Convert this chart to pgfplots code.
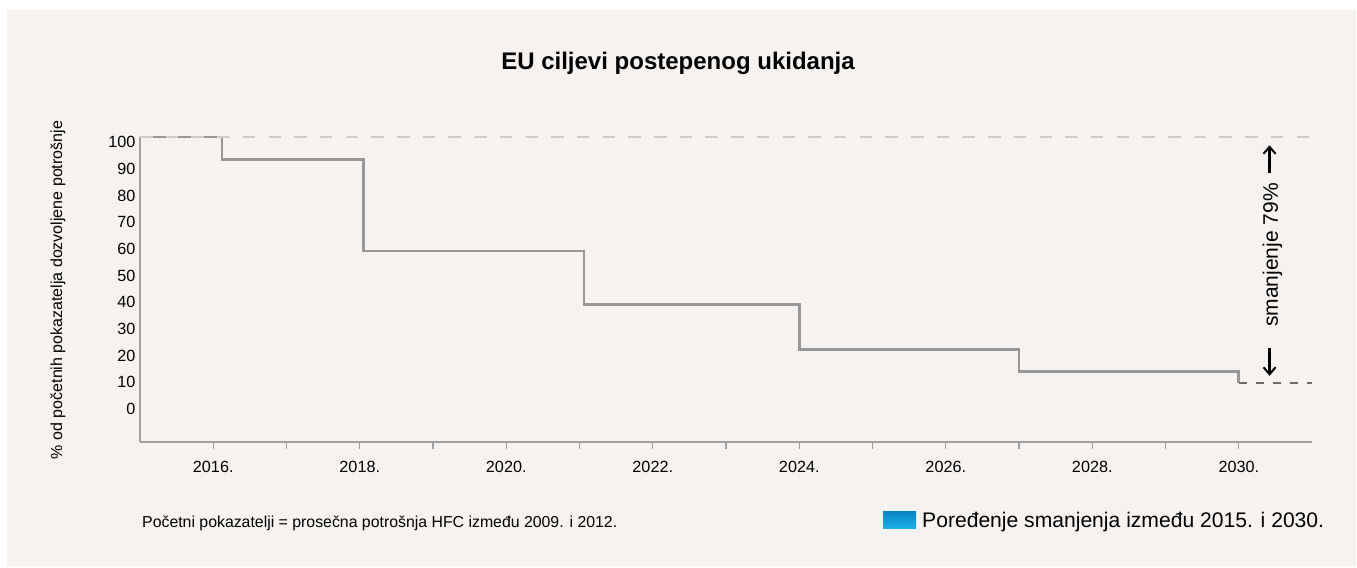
\documentclass[border=0pt]{standalone}
\usepackage{fontspec}
\setmainfont{Liberation Sans}
\usepackage{pgfplots}
\pgfplotsset{compat=1.18}
\usetikzlibrary{arrows.meta}
\definecolor{bgc}{HTML}{F5F2EF}
\definecolor{stepc}{HTML}{979797}
\definecolor{refc}{HTML}{CFCCC8}
\definecolor{axc}{HTML}{A0A0A0}
\definecolor{endc}{HTML}{6A6A6A}
\definecolor{blueA}{HTML}{0A85C6}
\definecolor{blueB}{HTML}{1DB3E8}
\begin{document}
\begin{tikzpicture}[x=1bp,y=1bp]
\useasboundingbox (0,0) rectangle (1357,568);
\fill[white] (0,0) rectangle (1357,568);
\fill[bgc] (7,2) rectangle (1356,558);
\begin{axis}[
  at={(140bp,126bp)}, anchor=south west,
  scale only axis, width=1172bp, height=305bp,
  xmin=2015, xmax=2031, ymin=-12.4, ymax=101.9,
  axis x line*=bottom, axis y line*=left,
  axis line style={axc, line width=1.8bp, -},
  clip=false,
  xtick={2016,2018,...,2030},
  xticklabels={2016.,2018.,2020.,2022.,2024.,2026.,2028.,2030.},
  minor xtick={2017,2019,...,2029},
  ytick={0,10,...,100},
  tick align=outside,
  major tick length=7bp, minor tick length=7bp,
  xtick style={axc, line width=1.3bp},
  ytick style={draw=none},
  tick label style={font=\fontsize{16.2bp}{19bp}\selectfont, text=black},
  /pgf/number format/assume math mode=true,
  xticklabel style={yshift=-9bp},
  yticklabel style={xshift=6bp},
]
\addplot[stepc, line width=2.6bp] coordinates {
  (2015,101.9) (2016.12,101.9) (2016.12,93.5) (2018.05,93.5) (2018.05,59.2)
  (2021.06,59.2) (2021.06,39.2) (2024,39.2) (2024,22.2) (2027,22.2)
  (2027,14.0) (2030,14.0) (2030,9.7)};
\addplot[refc, line width=2.6bp, dash pattern=on 12.5bp off 13.2bp] coordinates {(2015,101.9) (2031,101.9)};
\addplot[endc, line width=2.4bp, dash pattern=on 8bp off 9bp] coordinates {(2030,9.7) (2031,9.7)};
\draw[black, line width=2.2bp, -{Straight Barb[length=7bp,width=12bp,line width=2bp]}] (axis cs:2030.42,88.4) -- (axis cs:2030.42,98.8);
\draw[black, line width=2.2bp, -{Straight Barb[length=7bp,width=12bp,line width=2bp]}] (axis cs:2030.42,22.8) -- (axis cs:2030.42,12.4);
\node[rotate=90, font=\fontsize{21bp}{25bp}\selectfont] at (axis cs:2030.46,57.7) {smanjenje 79\%};
\end{axis}
\node[rotate=90, font=\fontsize{16bp}{19bp}\selectfont] at (58,278) {\% od početnih pokazatelja dozvoljene potrošnje};
\node[anchor=base, font=\bfseries\fontsize{24bp}{28bp}\selectfont] at (678,498) {EU ciljevi postepenog ukidanja};
\node[anchor=base west, inner sep=0, font=\fontsize{15.85bp}{19bp}\selectfont] at (142,40) {Početni pokazatelji = prosečna potrošnja HFC između 2009. i 2012.};
\shade[top color=blueA, bottom color=blueB] (883,39) rectangle (916,56);
\node[anchor=base west, inner sep=0, font=\fontsize{21.1bp}{25bp}\selectfont] at (922,40) {Poređenje smanjenja između 2015. i 2030.};
\end{tikzpicture}
\end{document}
